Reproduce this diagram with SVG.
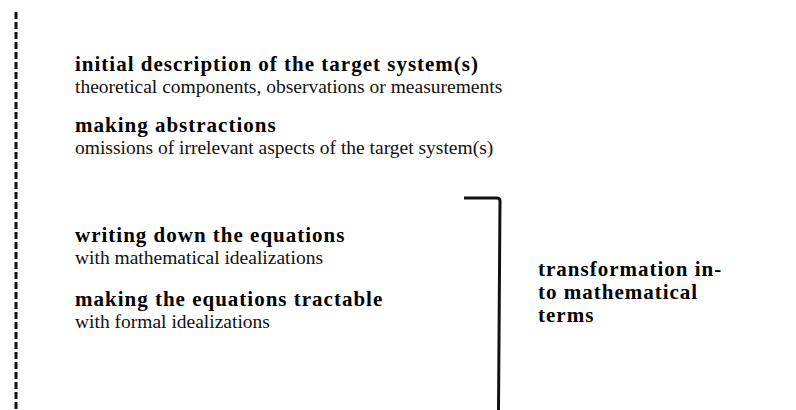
<svg xmlns="http://www.w3.org/2000/svg" width="796" height="410" viewBox="0 0 796 410">
<style>
.h{font-family:"Liberation Serif","Times New Roman",serif;font-weight:bold;font-size:21px;letter-spacing:1px;fill:#000}
.s{font-family:"Liberation Serif","Times New Roman",serif;font-size:19.5px;fill:#111}
.line{fill:none;stroke:#111;stroke-width:3}
</style>
<rect width="796" height="410" fill="#fff"/>
<g id="connectors">
<line class="line" x1="16" y1="12" x2="16" y2="410" stroke-width="4" stroke-dasharray="7 3"/>
<path class="line" d="M464 198 L497 198 Q500 198 500 201 L498.5 410"/>
</g>
<g id="step1"><text class="h" x="75" y="71">initial description of the target system(s)</text><text class="s" x="75" y="93">theoretical components, observations or measurements</text></g>
<g id="step2"><text class="h" x="75" y="132">making abstractions</text><text class="s" x="75" y="154">omissions of irrelevant aspects of the target system(s)</text></g>
<g id="step3"><text class="h" x="75" y="242">writing down the equations</text><text class="s" x="75" y="264">with mathematical idealizations</text></g>
<g id="step4"><text class="h" x="75" y="306">making the equations tractable</text><text class="s" x="75" y="328">with formal idealizations</text></g>
<g id="bracket-label"><text class="h" x="538" y="276">transformation in-</text><text class="h" x="538" y="299">to mathematical</text><text class="h" x="538" y="322">terms</text></g>
</svg>
